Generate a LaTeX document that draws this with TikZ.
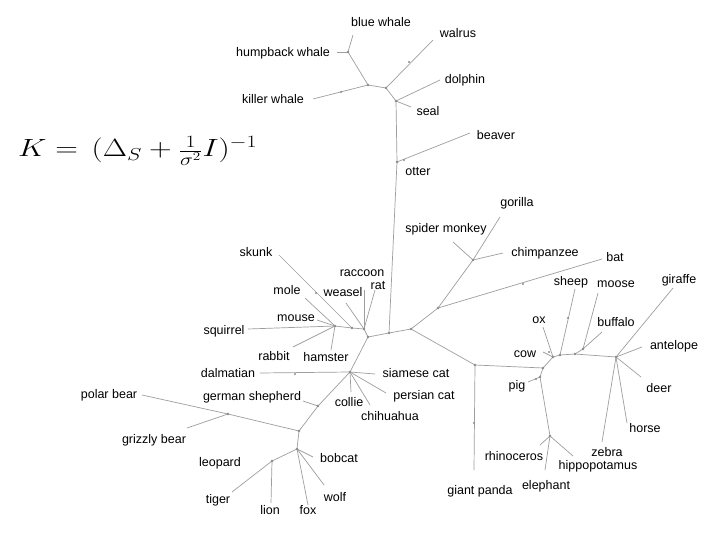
\documentclass[tikz,border=0pt]{standalone}
\usepackage{fontspec}
\setmainfont{Liberation Sans}
\begin{document}
\begin{tikzpicture}[x=1pt,y=-1pt,
  lbl/.style={font=\fontsize{12.5}{14}\selectfont, inner sep=0pt, anchor=base, yshift=-4.5pt, text=black},
  edge/.style={draw=black!38, line width=0.7pt},
  dotc/.style={fill=black!45}]
\useasboundingbox (0,0) rectangle (720,540);
\fill[white] (0,0) rectangle (720,540);

\node[anchor=base west, inner sep=0pt, font=\fontsize{23}{27}\selectfont] (formula) at (18,157) {\scalebox{1.26}[1.0]{$K = \,(\Delta_S + \frac{1}{\sigma^2} I)^{-1}$}};

% labels
\node[lbl] (Lbw) at (381,22) {blue whale};
\node[lbl] (Lwa) at (458,33) {walrus};
\node[lbl] (Lhw) at (283,52) {humpback whale};
\node[lbl] (Ldo) at (465,79) {dolphin};
\node[lbl] (Lkw) at (273,99) {killer whale};
\node[lbl] (Lse) at (428,111) {seal};
\node[lbl] (Lbe) at (496,135) {beaver};
\node[lbl] (Lot) at (418,171) {otter};
\node[lbl] (Lgo) at (517,202) {gorilla};
\node[lbl] (Lsp) at (446,228) {spider monkey};
\node[lbl] (Lcp) at (545,252) {chimpanzee};
\node[lbl] (Lba) at (615,257) {bat};
\node[lbl] (Lsk) at (256,252) {skunk};
\node[lbl] (Lra) at (362,272) {raccoon};
\node[lbl] (Lrat) at (378,285) {rat};
\node[lbl] (Lmo) at (287,290) {mole};
\node[lbl] (Lwe) at (343,292) {weasel};
\node[lbl] (Lmu) at (296,317) {mouse};
\node[lbl] (Lsq) at (224,330) {squirrel};
\node[lbl] (Lrb) at (274,356) {rabbit};
\node[lbl] (Lha) at (326,357) {hamster};
\node[lbl] (Lda) at (228,373) {dalmatian};
\node[lbl] (Lsi) at (416,373) {siamese cat};
\node[lbl] (Lpb) at (109,394) {polar bear};
\node[lbl] (Lgs) at (252,396) {german shepherd};
\node[lbl] (Lpe) at (424,395) {persian cat};
\node[lbl] (Lco) at (349,402) {collie};
\node[lbl] (Lch) at (390,416) {chihuahua};
\node[lbl] (Lgb) at (154,439) {grizzly bear};
\node[lbl] (Lle) at (220,462) {leopard};
\node[lbl] (Lbo) at (339,458) {bobcat};
\node[lbl] (Lti) at (218,499) {tiger};
\node[lbl] (Lwo) at (335,497) {wolf};
\node[lbl] (Lli) at (270,510) {lion};
\node[lbl] (Lfo) at (308,510) {fox};
\node[lbl] (Lgp) at (480,490) {giant panda};
\node[lbl] (Lel) at (546,485) {elephant};
\node[lbl] (Lrh) at (514,456) {rhinoceros};
\node[lbl] (Lze) at (607,452) {zebra};
\node[lbl] (Lhi) at (598,465) {hippopotamus};
\node[lbl] (Lho) at (645,428) {horse};
\node[lbl] (Lde) at (659,388) {deer};
\node[lbl] (Lan) at (674,345) {antelope};
\node[lbl] (Lcw) at (525,353) {cow};
\node[lbl] (Lpg) at (517,385) {pig};
\node[lbl] (Lox) at (539,319) {ox};
\node[lbl] (Lbu) at (616,322) {buffalo};
\node[lbl] (Lsh) at (571,281) {sheep};
\node[lbl] (Lmoo) at (616,283) {moose};
\node[lbl] (Lgi) at (679,279) {giraffe};

% coordinates
\coordinate (bwE) at (353,35);
\coordinate (hwJ) at (348,52);
\coordinate (hwE) at (337,52);
\coordinate (kwJ) at (368,85);
\coordinate (kwE) at (313,99);
\coordinate (waJ) at (386,88);
\coordinate (waE) at (433,40);
\coordinate (seJ) at (396,101);
\coordinate (doE) at (440,80);
\coordinate (seE) at (411,107);
\coordinate (otJ) at (397,162);
\coordinate (beE) at (470,133);
\coordinate (trB) at (389,333);
\coordinate (prJ) at (411,329);
\coordinate (cnJ) at (368,337);
\coordinate (rrJ) at (364,329);
\coordinate (skJ) at (352,328);
\coordinate (sqJ) at (335,326);
\coordinate (skE) at (279,255);
\coordinate (raE) at (364,290);
\coordinate (ratE) at (375,290);
\coordinate (weE) at (346,303);
\coordinate (moE) at (305,298);
\coordinate (muE) at (317,320);
\coordinate (sqE) at (248,329);
\coordinate (rbE) at (293,347);
\coordinate (haE) at (331,350);
\coordinate (dcJ) at (350,372);
\coordinate (siE) at (375,374);
\coordinate (peE) at (386,393);
\coordinate (coE) at (351,392);
\coordinate (chE) at (370,405);
\coordinate (daE) at (260,373);
\coordinate (gsJ) at (318,406);
\coordinate (gsE) at (303,401);
\coordinate (brJ) at (299,431);
\coordinate (pbJ) at (228,414);
\coordinate (pbE) at (142,395);
\coordinate (gbE) at (187,428);
\coordinate (ctJ) at (297,449);
\coordinate (boE) at (313,457);
\coordinate (woE) at (324,485);
\coordinate (foE) at (308,505);
\coordinate (ltJ) at (272,461);
\coordinate (liE) at (271,503);
\coordinate (tiE) at (232,492);
\coordinate (btJ) at (438,308);
\coordinate (baE) at (602,259);
\coordinate (pmJ) at (473,260);
\coordinate (goE) at (500,217);
\coordinate (spE) at (453,242);
\coordinate (cpE) at (503,253);
\coordinate (gpJ) at (475,365);
\coordinate (gpE) at (474,470);
\coordinate (ugJ) at (543,368);
\coordinate (pgJ) at (540,377);
\coordinate (pgE) at (528,382);
\coordinate (elJ) at (550,436);
\coordinate (rhE) at (540,445);
\coordinate (hiE) at (573,456);
\coordinate (elE) at (545,470);
\coordinate (cwJ) at (553,357);
\coordinate (cwE) at (543,352);
\coordinate (oxE) at (543,327);
\coordinate (shJ) at (560,355);
\coordinate (shE) at (575,289);
\coordinate (mdJ) at (575,354);
\coordinate (mbJ) at (583,349);
\coordinate (mooE) at (598,293);
\coordinate (buE) at (602,332);
\coordinate (rtJ) at (616,357);
\coordinate (giE) at (673,288);
\coordinate (anE) at (642,347);
\coordinate (deE) at (641,377);
\coordinate (hoE) at (627,423);
\coordinate (zeE) at (602,442);

% edges
\draw[edge] (hwJ) -- (bwE);
\draw[edge] (hwJ) -- (hwE);
\draw[edge] (hwJ) -- (kwJ);
\draw[edge] (kwE) -- (kwJ);
\draw[edge] (kwJ) -- (waJ);
\draw[edge] (waJ) -- (waE);
\draw[edge] (waJ) -- (seJ);
\draw[edge] (seJ) -- (doE);
\draw[edge] (seJ) -- (seE);
\draw[edge] (seJ) -- (otJ);
\draw[edge] (otJ) -- (beE);
\draw[edge] (otJ) -- (trB);
\draw[edge] (trB) -- (prJ);
\draw[edge] (trB) -- (cnJ);
\draw[edge] (cnJ) -- (rrJ);
\draw[edge] (rrJ) -- (skJ);
\draw[edge] (skJ) -- (sqJ);
\draw[edge] (skJ) -- (skE);
\draw[edge] (rrJ) -- (raE);
\draw[edge] (rrJ) -- (ratE);
\draw[edge] (rrJ) -- (weE);
\draw[edge] (sqJ) -- (moE);
\draw[edge] (sqJ) -- (muE);
\draw[edge] (sqJ) -- (sqE);
\draw[edge] (sqJ) -- (rbE);
\draw[edge] (sqJ) -- (haE);
\draw[edge] (cnJ) -- (dcJ);
\draw[edge] (dcJ) -- (siE);
\draw[edge] (dcJ) -- (peE);
\draw[edge] (dcJ) -- (coE);
\draw[edge] (dcJ) -- (chE);
\draw[edge] (dcJ) -- (daE);
\draw[edge] (dcJ) -- (gsJ);
\draw[edge] (gsJ) -- (gsE);
\draw[edge] (gsJ) -- (brJ);
\draw[edge] (brJ) -- (pbJ);
\draw[edge] (pbJ) -- (pbE);
\draw[edge] (pbJ) -- (gbE);
\draw[edge] (brJ) -- (ctJ);
\draw[edge] (ctJ) -- (boE);
\draw[edge] (ctJ) -- (woE);
\draw[edge] (ctJ) -- (foE);
\draw[edge] (ctJ) -- (ltJ);
\draw[edge] (ltJ) -- (liE);
\draw[edge] (ltJ) -- (tiE);
\draw[edge] (prJ) -- (btJ);
\draw[edge] (btJ) -- (baE);
\draw[edge] (btJ) -- (pmJ);
\draw[edge] (pmJ) -- (goE);
\draw[edge] (pmJ) -- (spE);
\draw[edge] (pmJ) -- (cpE);
\draw[edge] (prJ) -- (gpJ);
\draw[edge] (gpJ) -- (gpE);
\draw[edge] (gpJ) -- (ugJ);
\draw[edge] (ugJ) -- (pgJ);
\draw[edge] (pgJ) -- (pgE);
\draw[edge] (pgJ) -- (elJ);
\draw[edge] (elJ) -- (rhE);
\draw[edge] (elJ) -- (hiE);
\draw[edge] (elJ) -- (elE);
\draw[edge] (ugJ) -- (cwJ);
\draw[edge] (cwJ) -- (cwE);
\draw[edge] (cwJ) -- (oxE);
\draw[edge] (cwJ) -- (shJ);
\draw[edge] (shJ) -- (shE);
\draw[edge] (shJ) -- (mdJ);
\draw[edge] (mdJ) -- (mbJ);
\draw[edge] (mbJ) -- (mooE);
\draw[edge] (mbJ) -- (buE);
\draw[edge] (mdJ) -- (rtJ);
\draw[edge] (rtJ) -- (giE);
\draw[edge] (rtJ) -- (anE);
\draw[edge] (rtJ) -- (deE);
\draw[edge] (rtJ) -- (hoE);
\draw[edge] (rtJ) -- (zeE);

% dots
\foreach \p in {hwJ,kwJ,waJ,seJ,otJ,trB,prJ,cnJ,rrJ,skJ,sqJ,dcJ,gsJ,brJ,pbJ,ctJ,ltJ,btJ,pmJ,gpJ,ugJ,pgJ,elJ,cwJ,shJ,mdJ,mbJ,rtJ}
  \fill[dotc] (\p) circle (1.4);
\foreach \q in {(341,92),(409,62),(404,160),(316,293),(295,374),(523,284),(474,423),(568,318),(549,352),(536,379)}
  \fill[dotc] \q circle (1.2);
\end{tikzpicture}
\end{document}
